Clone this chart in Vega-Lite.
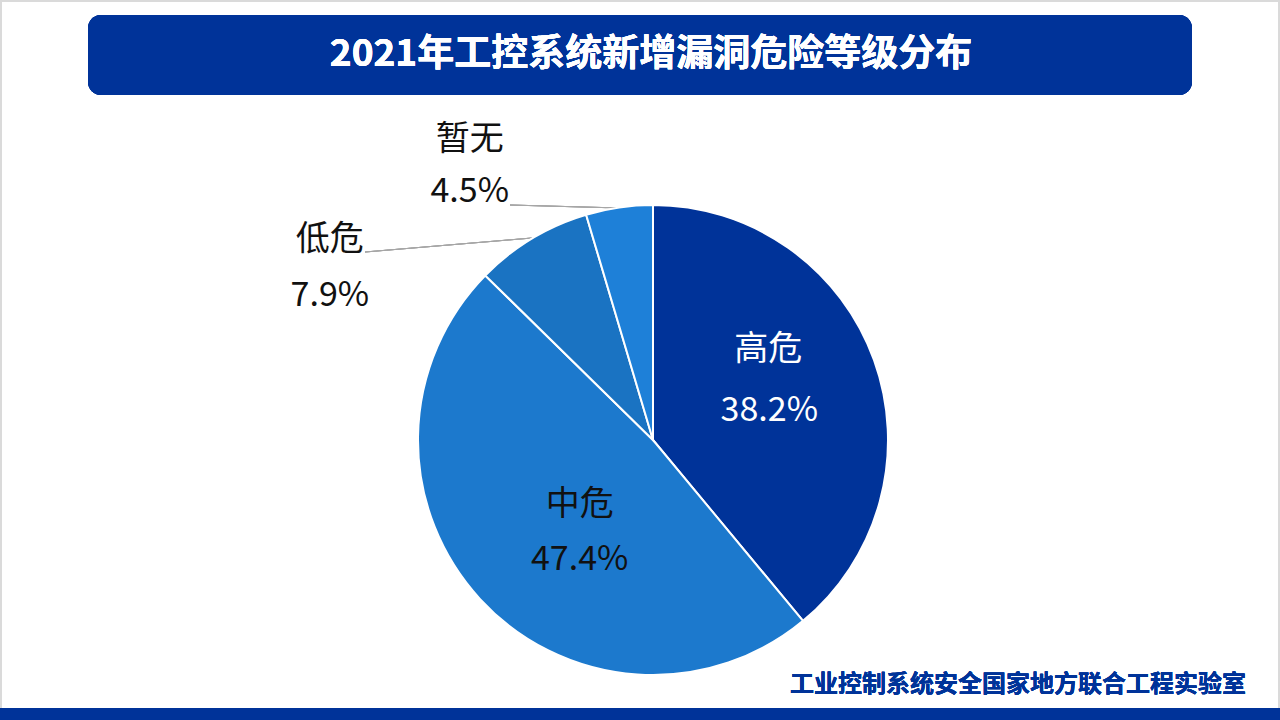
{
  "$schema": "https://vega.github.io/schema/vega-lite/v6.json",
  "width": 1280,
  "height": 720,
  "padding": 0,
  "autosize": {"type": "fit", "contains": "padding"},
  "background": "#ffffff",
  "view": {"stroke": null},
  "config": {"font": "Noto Sans CJK SC"},
  "data": {"values": [
    {"category": "高危", "share": 0.382, "rank": 1},
    {"category": "中危", "share": 0.474, "rank": 2},
    {"category": "低危", "share": 0.079, "rank": 3},
    {"category": "暂无", "share": 0.045, "rank": 4}
  ]},
  "layer": [
    {
      "mark": {"type": "rect", "fill": "#ffffff", "stroke": "#dadada", "strokeWidth": 2},
      "encoding": {"x": {"value": 1}, "x2": {"value": 1279}, "y": {"value": 1}, "y2": {"value": 719}}
    },
    {
      "mark": {"type": "rect", "color": "#003399", "cornerRadius": 13},
      "encoding": {"x": {"value": 88}, "x2": {"value": 1192}, "y": {"value": 15}, "y2": {"value": 95}}
    },
    {
      "mark": {"type": "text", "text": "2021年工控系统新增漏洞危险等级分布", "color": "#ffffff", "fontSize": 37, "fontWeight": "bold", "align": "center", "baseline": "middle", "font": "Noto Sans CJK SC"},
      "encoding": {"x": {"value": 651}, "y": {"value": 55}}
    },
    {
      "mark": {"type": "rect", "color": "#003399"},
      "encoding": {"x": {"value": 0}, "x2": {"value": 1280}, "y": {"value": 708}, "y2": {"value": 720}}
    },
    {
      "mark": {"type": "text", "text": "工业控制系统安全国家地方联合工程实验室", "color": "#003399", "fontSize": 24, "fontWeight": "bold", "align": "right", "baseline": "middle", "font": "Noto Sans CJK SC"},
      "encoding": {"x": {"value": 1246}, "y": {"value": 685}}
    },
    {
      "mark": {"type": "rule", "color": "#a6a6a6", "strokeWidth": 1},
      "encoding": {"x": {"value": 510}, "x2": {"value": 620}, "y": {"value": 205}, "y2": {"value": 208}}
    },
    {
      "mark": {"type": "rule", "color": "#a6a6a6", "strokeWidth": 1},
      "encoding": {"x": {"value": 365}, "x2": {"value": 532}, "y": {"value": 252}, "y2": {"value": 238}}
    },
    {
      "mark": {"type": "arc", "outerRadius": 235, "stroke": "#ffffff", "strokeWidth": 2},
      "encoding": {
        "x": {"value": 653}, "y": {"value": 440},
        "theta": {"field": "share", "type": "quantitative", "stack": true},
        "order": {"field": "rank", "type": "quantitative"},
        "color": {"field": "category", "type": "nominal", "legend": null,
          "scale": {"domain": ["高危", "中危", "低危", "暂无"], "range": ["#003399", "#1c79cd", "#1a73c2", "#1e80d8"]}}
      }
    },
    {
      "mark": {"type": "text", "fontSize": 34, "color": "#ffffff", "align": "center", "baseline": "middle", "dx": -7, "dy": -46},
      "encoding": {
        "x": {"value": 653}, "y": {"value": 440}, "radius": {"value": 130},
        "theta": {"field": "share", "type": "quantitative", "stack": true},
        "order": {"field": "rank", "type": "quantitative"}, "detail": {"field": "category"},
        "text": {"condition": {"test": "datum.category === '高危'", "field": "category"}, "value": ""}
      }
    },
    {
      "mark": {"type": "text", "fontSize": 34, "letterSpacing": 2, "color": "#ffffff", "align": "center", "baseline": "middle", "dx": -6, "dy": 15},
      "encoding": {
        "x": {"value": 653}, "y": {"value": 440}, "radius": {"value": 130},
        "theta": {"field": "share", "type": "quantitative", "stack": true},
        "order": {"field": "rank", "type": "quantitative"}, "detail": {"field": "category"},
        "text": {"condition": {"test": "datum.category === '高危'", "field": "share", "type": "quantitative", "format": ".1%"}, "value": ""}
      }
    },
    {
      "mark": {"type": "text", "fontSize": 34, "color": "#111111", "align": "center", "baseline": "middle", "dx": 15, "dy": -16},
      "encoding": {
        "x": {"value": 653}, "y": {"value": 440}, "radius": {"value": 120},
        "theta": {"field": "share", "type": "quantitative", "stack": true},
        "order": {"field": "rank", "type": "quantitative"}, "detail": {"field": "category"},
        "text": {"condition": {"test": "datum.category === '中危'", "field": "category"}, "value": ""}
      }
    },
    {
      "mark": {"type": "text", "fontSize": 34, "letterSpacing": 2, "color": "#111111", "align": "center", "baseline": "middle", "dx": 15, "dy": 39},
      "encoding": {
        "x": {"value": 653}, "y": {"value": 440}, "radius": {"value": 120},
        "theta": {"field": "share", "type": "quantitative", "stack": true},
        "order": {"field": "rank", "type": "quantitative"}, "detail": {"field": "category"},
        "text": {"condition": {"test": "datum.category === '中危'", "field": "share", "type": "quantitative", "format": ".1%"}, "value": ""}
      }
    },
    {
      "mark": {"type": "text", "fontSize": 34, "color": "#111111", "align": "center", "baseline": "middle", "dx": -153, "dy": 83},
      "encoding": {
        "x": {"value": 653}, "y": {"value": 440}, "radius": {"value": 330},
        "theta": {"field": "share", "type": "quantitative", "stack": true},
        "order": {"field": "rank", "type": "quantitative"}, "detail": {"field": "category"},
        "text": {"condition": {"test": "datum.category === '低危'", "field": "category"}, "value": ""}
      }
    },
    {
      "mark": {"type": "text", "fontSize": 34, "letterSpacing": 2, "color": "#111111", "align": "center", "baseline": "middle", "dx": -153, "dy": 139},
      "encoding": {
        "x": {"value": 653}, "y": {"value": 440}, "radius": {"value": 330},
        "theta": {"field": "share", "type": "quantitative", "stack": true},
        "order": {"field": "rank", "type": "quantitative"}, "detail": {"field": "category"},
        "text": {"condition": {"test": "datum.category === '低危'", "field": "share", "type": "quantitative", "format": ".1%"}, "value": ""}
      }
    },
    {
      "mark": {"type": "text", "fontSize": 34, "color": "#111111", "align": "center", "baseline": "middle", "dx": -143, "dy": -23},
      "encoding": {
        "x": {"value": 653}, "y": {"value": 440}, "radius": {"value": 280},
        "theta": {"field": "share", "type": "quantitative", "stack": true},
        "order": {"field": "rank", "type": "quantitative"}, "detail": {"field": "category"},
        "text": {"condition": {"test": "datum.category === '暂无'", "field": "category"}, "value": ""}
      }
    },
    {
      "mark": {"type": "text", "fontSize": 34, "letterSpacing": 2, "color": "#111111", "align": "center", "baseline": "middle", "dx": -143, "dy": 29},
      "encoding": {
        "x": {"value": 653}, "y": {"value": 440}, "radius": {"value": 280},
        "theta": {"field": "share", "type": "quantitative", "stack": true},
        "order": {"field": "rank", "type": "quantitative"}, "detail": {"field": "category"},
        "text": {"condition": {"test": "datum.category === '暂无'", "field": "share", "type": "quantitative", "format": ".1%"}, "value": ""}
      }
    }
  ]
}
